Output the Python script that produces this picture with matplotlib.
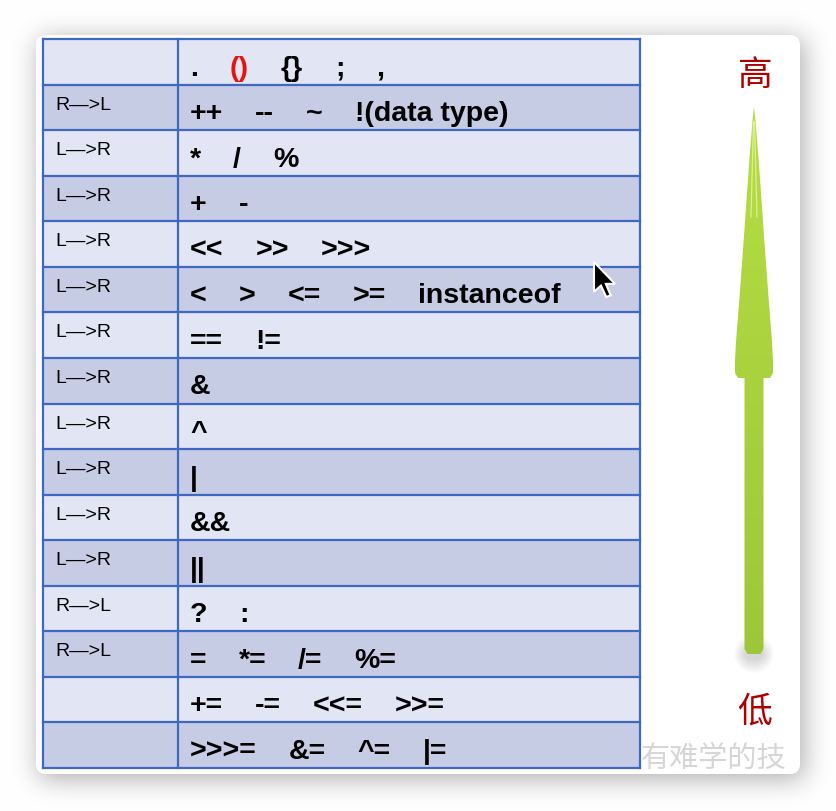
import matplotlib
matplotlib.use("Agg")
import numpy as np
import matplotlib.pyplot as plt
from matplotlib.patches import Rectangle, FancyBboxPatch, Polygon, Ellipse

# ---- data: Java operator precedence, high -> low
assoc = ["", "R—>L", "L—>R", "L—>R", "L—>R", "L—>R", "L—>R", "L—>R",
         "L—>R", "L—>R", "L—>R", "L—>R", "R—>L", "R—>L", "", ""]
operators = [
    [".", "()", "{}", ";", ","],
    ["++", "--", "~", "!(data type)"],
    ["*", "/", "%"],
    ["+", "-"],
    ["<<", ">>", ">>>"],
    ["<", ">", "<=", ">=", "instanceof"],
    ["==", "!="],
    ["&"],
    ["^"],
    ["|"],
    ["&&"],
    ["||"],
    ["?", ":"],
    ["=", "*=", "/=", "%="],
    ["+=", "-=", "<<=", ">>="],
    [">>>=", "&=", "^=", "|="],
]
red_tokens = ["()"]
high_label = "高"
low_label = "低"
watermark = "有难学的技"

# ---- layout (pixels)
W, H = 836, 812
tab_left, tab_mid, tab_right = 43, 178, 640
tab_top, tab_bot = 40, 769
row_h = (tab_bot - tab_top) / len(operators)
light_row = "#e2e5f3"
dark_row = "#c7cce5"
grid_col = "#3f67c4"

fig = plt.figure(figsize=(W / 100, H / 100), dpi=100)
ax = fig.add_axes([0, 0, 1, 1])
ax.set_xlim(0, W)
ax.set_ylim(H, 0)
ax.axis("off")
fig.patch.set_facecolor("#ffffff")

# card drop shadow (blurred mask)
card_x0, card_y0, card_x1, card_y1 = 36, 36, 800, 775
mask = np.zeros((H, W))
mask[card_y0 + 4:card_y1 + 5, card_x0 + 3:card_x1 + 4] = 1.0
sig = 13
kx = np.arange(-3 * sig, 3 * sig + 1)
kern = np.exp(-kx ** 2 / (2 * sig ** 2))
kern /= kern.sum()
blur = np.apply_along_axis(lambda r: np.convolve(r, kern, mode="same"), 1, mask)
blur = np.apply_along_axis(lambda c: np.convolve(c, kern, mode="same"), 0, blur)
bg = 1 - 0.32 * blur
ax.imshow(np.dstack([bg, bg, bg]), extent=(0, W, H, 0), zorder=0,
          interpolation="bilinear", aspect="auto")

card = FancyBboxPatch((card_x0, card_y0), card_x1 - card_x0, card_y1 - card_y0,
                      boxstyle="round,pad=0,rounding_size=10",
                      fc="white", ec="none", zorder=1)
ax.add_patch(card)

# watermark under the table
ax.text(641, 767, watermark, fontsize=21, color="#d6d6d6",
        family=["Noto Sans CJK SC"], style="italic", va="baseline",
        ha="left", zorder=2)

# table rows
renderer = fig.canvas.get_renderer()
for i, (a, ops) in enumerate(zip(assoc, operators)):
    y0 = tab_top + i * row_h
    col = light_row if i % 2 == 0 else dark_row
    ax.add_patch(Rectangle((tab_left, y0), tab_right - tab_left, row_h,
                           fc=col, ec="none", zorder=3))
    if a:
        ax.text(55, y0 + row_h * 0.43, a, fontsize=14, family="Liberation Sans",
                va="center", ha="left", zorder=5)
    x = 190
    for tok in ops:
        c = "#e8120f" if tok in red_tokens else "black"
        t = ax.text(x, y0 + row_h * 0.78, tok, fontsize=20.5, weight="bold",
                    family="Liberation Sans", color=c, va="baseline", ha="left",
                    zorder=5)
        bb = t.get_window_extent(renderer)
        x += bb.width + 32

# grid lines
for i in range(len(operators) + 1):
    y = tab_top + i * row_h
    ax.plot([tab_left, tab_right], [y, y], color=grid_col, lw=1.6, zorder=4,
            solid_capstyle="projecting")
for xv in (tab_left, tab_mid, tab_right):
    ax.plot([xv, xv], [tab_top, tab_bot], color=grid_col, lw=1.6, zorder=4,
            solid_capstyle="projecting")

# high / low labels
ax.text(755, 75, high_label, fontsize=25, color="#b00000",
        family=["Noto Sans CJK SC"], ha="center", va="center", zorder=5)
ax.text(755, 712, low_label, fontsize=25, color="#b00000",
        family=["Noto Sans CJK SC"], ha="center", va="center", zorder=5)

# arrow (high -> low)
cx = 754
tip_y, head_y, neck_y, end_y = 108, 362, 379, 655
head_hw, shaft_hw = 19, 9.5
left_edge = [(cx - 1.2, tip_y + 10), (cx - 4.8, tip_y + 55), (cx - 9.5, tip_y + 122),
             (cx - 14.5, tip_y + 190), (cx - 18, tip_y + 235), (cx - head_hw, head_y)]
verts = [(cx, tip_y)] + left_edge + [(cx - head_hw, neck_y - 5), (cx - head_hw + 3, neck_y),
         (cx - shaft_hw, neck_y), (cx - shaft_hw, end_y - 5), (cx - shaft_hw + 3, end_y),
         (cx + shaft_hw - 3, end_y), (cx + shaft_hw, end_y - 5), (cx + shaft_hw, neck_y),
         (cx + head_hw - 3, neck_y), (cx + head_hw, neck_y - 5)] + \
        [(cx + (cx - px), py) for px, py in reversed(left_edge)]
for k in range(10, 0, -1):
    ax.add_patch(Ellipse((cx, end_y), 16 + 2.4 * k, 10 + 2.8 * k, fc="black",
                         ec="none", alpha=0.015, zorder=3))
arrow = Polygon(verts, closed=True, fc="none", ec="none", zorder=5)
ax.add_patch(arrow)
grad = np.linspace(0, 1, 256)[:, None]
top_c = np.array([182, 222, 66]) / 255
bot_c = np.array([158, 198, 58]) / 255
img = top_c[None, None, :] * (1 - grad[:, :, None]) + bot_c[None, None, :] * grad[:, :, None]
im = ax.imshow(img, extent=(cx - head_hw - 2, cx + head_hw + 2, end_y + 2, tip_y - 2),
               aspect="auto", zorder=5, interpolation="bilinear")
im.set_clip_path(arrow)
ax.plot([cx - 0.5, cx - 3], [tip_y + 15, tip_y + 110], color="#eef9c0", lw=0.9,
        alpha=0.7, zorder=6)
ax.plot([cx + 0.5, cx + 3], [tip_y + 15, tip_y + 110], color="#eef9c0", lw=0.9,
        alpha=0.7, zorder=6)

# mouse cursor
tip = np.array([594, 263])
shape = np.array([(0, 0), (0, 17), (4, 13.5), (7, 20), (9.5, 19), (6.8, 12.5), (12, 12.5)]) * 1.75
ax.add_patch(Polygon(shape + tip, closed=True, fc="black", ec="white", lw=1.5,
                     joinstyle="miter", zorder=7))

ax.set_xlim(0, W)
ax.set_ylim(H, 0)
fig.savefig("out.png", dpi=100)
